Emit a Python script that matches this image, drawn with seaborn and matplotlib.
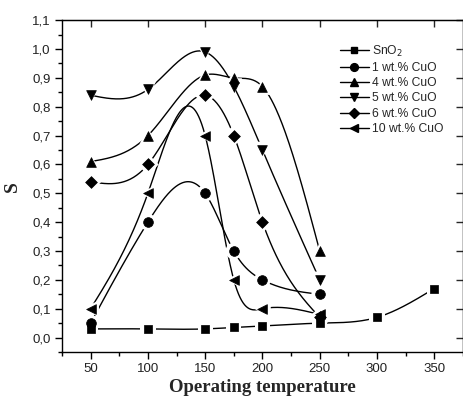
import numpy as np
import pandas as pd
import matplotlib
matplotlib.use("Agg")
import matplotlib.pyplot as plt
from matplotlib.lines import Line2D
from matplotlib.ticker import MultipleLocator, FuncFormatter
import seaborn as sns

# Sensor response S versus operating temperature
temp_sno2 = [50, 100, 150, 175, 200, 250, 300, 350]
s_sno2 = [0.03, 0.03, 0.03, 0.035, 0.04, 0.05, 0.07, 0.17]

temp_cuo = [50, 100, 150, 175, 200, 250]
s_cuo1 = [0.05, 0.40, 0.50, 0.30, 0.20, 0.15]
s_cuo4 = [0.61, 0.70, 0.91, 0.90, 0.87, 0.30]
s_cuo5 = [0.84, 0.86, 0.99, 0.87, 0.65, 0.20]
s_cuo6 = [0.54, 0.60, 0.84, 0.70, 0.40, 0.07]
s_cuo10 = [0.10, 0.50, 0.70, 0.20, 0.10, 0.08]

labels = ["SnO$_2$", "1 wt.% CuO", "4 wt.% CuO", "5 wt.% CuO",
          "6 wt.% CuO", "10 wt.% CuO"]
markers = ["s", "o", "^", "v", "D", "<"]
sizes = [6, 7, 7, 7, 6, 7]

series = [
    (temp_sno2, s_sno2),
    (temp_cuo, s_cuo1),
    (temp_cuo, s_cuo4),
    (temp_cuo, s_cuo5),
    (temp_cuo, s_cuo6),
    (temp_cuo, s_cuo10),
]


def natural_spline(x, y, n=300):
    """Smooth natural cubic spline through the measured points."""
    x = np.asarray(x, float)
    y = np.asarray(y, float)
    m = len(x)
    h = np.diff(x)
    A = np.zeros((m, m))
    b = np.zeros(m)
    A[0, 0] = A[-1, -1] = 1.0
    for i in range(1, m - 1):
        A[i, i - 1] = h[i - 1]
        A[i, i] = 2 * (h[i - 1] + h[i])
        A[i, i + 1] = h[i]
        b[i] = 6 * ((y[i + 1] - y[i]) / h[i] - (y[i] - y[i - 1]) / h[i - 1])
    M = np.linalg.solve(A, b)
    xs = np.linspace(x[0], x[-1], n)
    idx = np.clip(np.searchsorted(x, xs) - 1, 0, m - 2)
    x0, x1 = x[idx], x[idx + 1]
    hh = x1 - x0
    t0, t1 = x1 - xs, xs - x0
    ys = (M[idx] * t0 ** 3 + M[idx + 1] * t1 ** 3) / (6 * hh) \
        + (y[idx] / hh - M[idx] * hh / 6) * t0 \
        + (y[idx + 1] / hh - M[idx + 1] * hh / 6) * t1
    return xs, ys


sns.set_style("ticks")
plt.rcParams["font.family"] = ["Liberation Sans", "DejaVu Sans"]

fig = plt.figure(figsize=(4.64, 4.01), dpi=100)
ax = fig.add_axes([0.1336, 0.1222, 0.864, 0.8274])

for (tx, sy), mk, ms in zip(series, markers, sizes):
    xs, ys = natural_spline(tx, sy)
    sns.lineplot(x=xs, y=ys, sort=False, color="black", lw=1.0,
                 ax=ax, legend=False, zorder=2)

# white halo under each marker leaves a small gap in the curve
for (tx, sy), mk, ms in zip(series, markers, sizes):
    df = pd.DataFrame({"T": tx, "S": sy})
    sns.scatterplot(data=df, x="T", y="S", marker=mk, s=(ms + 5) ** 2,
                    color="white", edgecolor="none", ax=ax, zorder=3,
                    legend=False)
for (tx, sy), mk, ms in zip(series, markers, sizes):
    df = pd.DataFrame({"T": tx, "S": sy})
    sns.scatterplot(data=df, x="T", y="S", marker=mk, s=ms ** 2,
                    color="black", edgecolor="black", linewidth=0.5,
                    ax=ax, zorder=4, legend=False)

ax.set_xlim(25, 375)
ax.set_ylim(-0.05, 1.1)
ax.xaxis.set_major_locator(MultipleLocator(50))
ax.xaxis.set_minor_locator(MultipleLocator(25))
ax.yaxis.set_major_locator(MultipleLocator(0.1))
ax.yaxis.set_minor_locator(MultipleLocator(0.05))
ax.set_xticks([50, 100, 150, 200, 250, 300, 350])
ax.yaxis.set_major_formatter(FuncFormatter(lambda v, p: f"{v:.1f}".replace(".", ",")))

ax.tick_params(which="major", direction="out", length=5, width=1,
               labelsize=9.5, colors="black", labelcolor="#222222", pad=3)
ax.tick_params(which="minor", direction="out", length=3, width=1, colors="black")

for sp in ax.spines.values():
    sp.set_visible(True)
    sp.set_linewidth(1.0)
    sp.set_color("black")

# mirrored inward ticks along the top and right edges
top = ax.secondary_xaxis("top")
top.set_xticks([50, 100, 150, 200, 250, 300, 350])
top.tick_params(direction="in", length=5, width=1, labeltop=False)
right = ax.secondary_yaxis("right")
right.set_yticks(np.round(np.arange(0.0, 1.11, 0.1), 2))
right.tick_params(direction="in", length=5, width=1, labelright=False)

ax.set_xlabel("Operating temperature", family=["Liberation Serif", "DejaVu Serif"],
              fontweight="bold", fontsize=13.5, labelpad=3)
ax.set_ylabel("S", family=["Liberation Serif", "DejaVu Serif"],
              fontweight="bold", fontsize=14, labelpad=8)

handles = [Line2D([0], [0], color="black", lw=1.0, marker=mk, markersize=ms * 0.8,
                  markerfacecolor="black", markeredgecolor="black")
           for mk, ms in zip(markers, sizes)]
leg = ax.legend(handles, labels, loc="upper left", bbox_to_anchor=(0.672, 0.955),
                frameon=False, fontsize=8.7, handlelength=2.4, handletextpad=0.25,
                labelspacing=0.27, borderpad=0.2)

fig.savefig("out.png", dpi=100)
